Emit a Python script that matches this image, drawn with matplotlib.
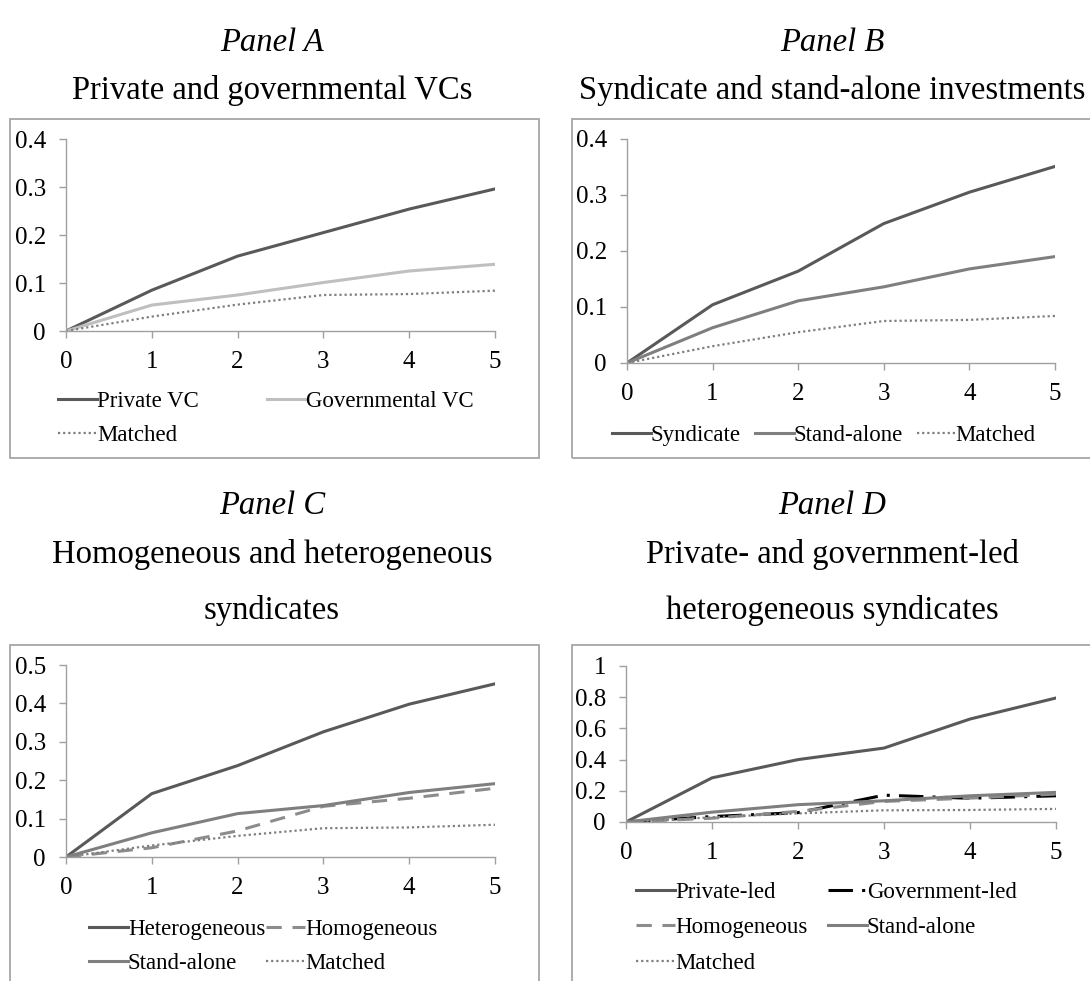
import matplotlib
matplotlib.use("Agg")
import matplotlib.pyplot as plt
from matplotlib.patches import Rectangle
from matplotlib.ticker import FuncFormatter

plt.rcParams['font.family'] = ['Liberation Serif', 'DejaVu Serif']

years = [0, 1, 2, 3, 4, 5]

# Panel A
a_private = [0, 0.085, 0.156, 0.205, 0.254, 0.296]
a_gov = [0, 0.054, 0.075, 0.101, 0.125, 0.139]
matched = [0, 0.030, 0.055, 0.075, 0.077, 0.084]

# Panel B
b_syndicate = [0, 0.104, 0.164, 0.249, 0.305, 0.351]
b_standalone = [0, 0.063, 0.111, 0.136, 0.168, 0.190]

# Panel C
c_hetero = [0, 0.165, 0.238, 0.326, 0.398, 0.451]
c_homo = [0, 0.024, 0.068, 0.132, 0.153, 0.179]
c_standalone = [0, 0.063, 0.113, 0.134, 0.168, 0.191]

# Panel D
d_private_led = [0, 0.283, 0.400, 0.474, 0.660, 0.795]
d_gov_led = [0, 0.035, 0.060, 0.172, 0.152, 0.168]

W, H = 1090, 981
fig = plt.figure(figsize=(W / 100, H / 100), dpi=100)

def px_axes(x0, x1, y0, y1):
    return fig.add_axes([x0 / W, 1 - y1 / H, (x1 - x0) / W, (y1 - y0) / H])

def box(x0, y0, x1, y1):
    fig.patches.append(Rectangle((x0 / W, 1 - y1 / H), (x1 - x0) / W, (y1 - y0) / H,
                                 transform=fig.transFigure, fill=False,
                                 edgecolor='#a6a6a6', linewidth=1.3, clip_on=False))

DARK = '#595959'
LIGHT = '#bfbfbf'
MID = '#7f7f7f'
DOT = '#7f7f7f'
FS = 16.5
TKFS = 18
TFS = 23.5

def style(ax, ymax, ystep):
    ax.set_xlim(0, 5)
    ax.set_ylim(0, ymax)
    ax.set_xticks(years)
    yt = [round(i * ystep, 2) for i in range(int(round(ymax / ystep)) + 1)]
    ax.set_yticks(yt)
    ax.yaxis.set_major_formatter(FuncFormatter(lambda v, p: '%g' % v))
    for s in ['top', 'right']:
        ax.spines[s].set_visible(False)
    for s in ['left', 'bottom']:
        ax.spines[s].set_color('#a0a0a0')
        ax.spines[s].set_linewidth(1.0)
    ax.tick_params(axis='both', direction='out', length=5, width=1.0,
                   color='#a0a0a0', labelsize=TKFS, labelcolor='black')
    ax.tick_params(axis='x', pad=9.5)
    ax.tick_params(axis='y', pad=9.5)
    ax.patch.set_visible(False)

def legend(ax, x, y, ncol, colsp, order=None, lsp=0.5):
    h, l = ax.get_legend_handles_labels()
    if order is not None:
        h = [h[i] for i in order]
        l = [l[i] for i in order]
    ax.legend(h, l, loc='upper left', bbox_to_anchor=(x / W, 1 - y / H),
              bbox_transform=fig.transFigure, ncol=ncol, frameon=False,
              fontsize=FS, handlelength=1.7, handletextpad=0.0,
              columnspacing=colsp, borderpad=0, borderaxespad=0,
              labelspacing=lsp)

LW = 2.2
DOTSTYLE = dict(color=DOT, linestyle=(0, (1, 1.3)), linewidth=1.6)

# Boxes
box(10, 119, 539, 458)
box(572, 119, 1100, 458)
box(10, 645, 539, 995)
box(572, 645, 1100, 995)

# Titles
def titles(cx, ys, lines):
    fig.text(cx / W, 1 - ys[0] / H, lines[0], ha='center', va='center',
             fontsize=TFS, style='italic')
    for yy, t in zip(ys[1:], lines[1:]):
        fig.text(cx / W, 1 - yy / H, t, ha='center', va='center', fontsize=TFS)

titles(272, [43, 90], ['Panel A', 'Private and governmental VCs'])
titles(832, [43, 90], ['Panel B', 'Syndicate and stand-alone investments'])
titles(272, [506, 554, 610], ['Panel C', 'Homogeneous and heterogeneous', 'syndicates'])
titles(832, [506, 554, 610], ['Panel D', 'Private- and government-led', 'heterogeneous syndicates'])

# Panel A
ax = px_axes(66, 495, 139, 331)
ax.plot(years, a_private, color=DARK, lw=LW, label='Private VC')
ax.plot(years, a_gov, color=LIGHT, lw=LW, label='Governmental VC')
ax.plot(years, matched, label='Matched', **DOTSTYLE)
style(ax, 0.4, 0.1)
legend(ax, 58, 391, 2, 3.0, order=[0, 2, 1], lsp=0.55)

# Panel B
ax = px_axes(627, 1055, 139, 363)
ax.plot(years, b_syndicate, color=DARK, lw=LW, label='Syndicate')
ax.plot(years, b_standalone, color=MID, lw=LW, label='Stand-alone')
ax.plot(years, matched, label='Matched', **DOTSTYLE)
style(ax, 0.4, 0.1)
legend(ax, 612, 425, 3, 0.6)

# Panel C
ax = px_axes(66, 495, 665, 857)
ax.plot(years, c_hetero, color=DARK, lw=LW, label='Heterogeneous')
ax.plot(years, c_homo, color='#8c8c8c', lw=LW, linestyle=(0, (5, 3.5)), label='Homogeneous')
ax.plot(years, c_standalone, color=MID, lw=LW, label='Stand-alone')
ax.plot(years, matched, label='Matched', **DOTSTYLE)
style(ax, 0.5, 0.1)
legend(ax, 89, 919, 2, 0.05, order=[0, 2, 1, 3], lsp=0.55)

# Panel D
ax = px_axes(626, 1056, 666, 822)
ax.plot(years, d_private_led, color=DARK, lw=LW, label='Private-led')
ax.plot(years, d_gov_led, color='black', lw=LW, linestyle=(0, (8, 3, 1, 3)), label='Government-led')
ax.plot(years, c_homo, color='#8c8c8c', lw=LW, linestyle=(0, (5, 3.5)), label='Homogeneous')
ax.plot(years, b_standalone, color=MID, lw=LW, label='Stand-alone')
ax.plot(years, matched, label='Matched', **DOTSTYLE)
style(ax, 1.0, 0.2)
# row-wise: Private-led, Government-led / Homogeneous, Stand-alone / Matched
legend(ax, 636, 882, 2, 0.9, order=[0, 2, 4, 1, 3], lsp=0.62)

fig.savefig('out.png', dpi=100)
